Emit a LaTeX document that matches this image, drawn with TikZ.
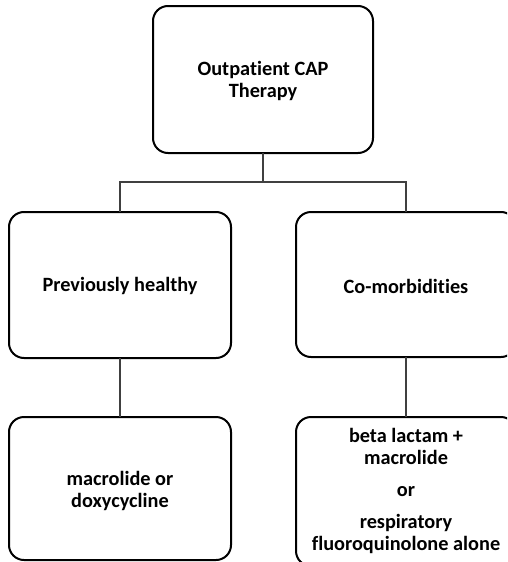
\documentclass[tikz,border=0pt]{standalone}
\usepackage{fontspec}
\setmainfont{Carlito}[Ligatures=NoCommon]
\begin{document}
\begin{tikzpicture}[x=1pt,y=-1pt,
  box/.style={draw=black,line width=2pt,rounded corners=15pt,fill=white},
  lbl/.style={align=center,font=\fontsize{20.3}{21.8}\selectfont\bfseries,inner sep=0pt},
  conn/.style={draw=black!75,line width=1.2pt}]
\useasboundingbox (0,0) rectangle (507,562);
\clip (0,0) rectangle (507,562);
% boxes
\draw[box] (153,6) rectangle (373,153);
\draw[box] (9,212) rectangle (231,358);
\draw[box] (296,212) rectangle (516,357);
\draw[box] (9,417) rectangle (231,560);
\draw[box] (296,417) rectangle (516,566);
% labels as nodes
\node[lbl] (top) at (263,81) {Outpatient CAP\\Therapy};
\node[lbl] (lm) at (120,286) {Previously healthy};
\node[lbl] (rm) at (406,286) {Co-morbidities};
\node[lbl] (lb) at (120,491) {macrolide or\\doxycycline};
\node[lbl] (rb) at (406,491) {beta lactam +\\macrolide\\[10pt]or\\[10pt]respiratory\\fluoroquinolone alone};
% connector coordinates
\coordinate (topb) at (263,153);
\coordinate (bus) at (263,182);
\coordinate (busl) at (120,182);
\coordinate (busr) at (406,182);
\coordinate (lmt) at (120,212);
\coordinate (rmt) at (406,212);
\coordinate (lmb) at (120,358);
\coordinate (rmb) at (406,357);
\coordinate (lbt) at (120,417);
\coordinate (rbt) at (406,417);
\draw[conn] (topb) -- (bus);
\draw[conn] (lmt) -- (busl) -- (busr) -- (rmt);
\draw[conn] (lmb) -- (lbt);
\draw[conn] (rmb) -- (rbt);
\end{tikzpicture}
\end{document}
